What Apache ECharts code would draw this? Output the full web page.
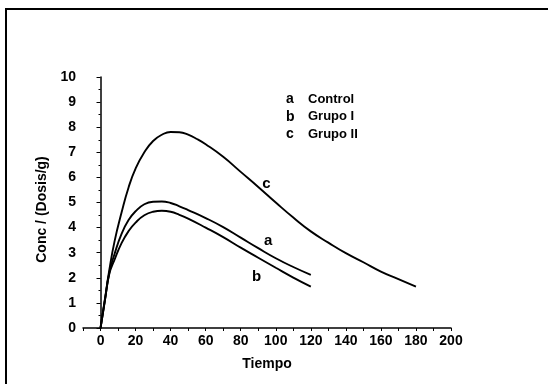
<!DOCTYPE html>
<html>
<head>
<meta charset="utf-8">
<script src="https://cdn.jsdelivr.net/npm/echarts@6/dist/echarts.min.js"></script>
<style>html,body{margin:0;padding:0;background:#fff}#c{width:548px;height:384px}</style>
</head>
<body>
<div id="c"></div>
<script>
const timesA = [0,2.5,5,8,12,16,20,25,30,35,40,45,50,60,70,80,90,100,110,120];
const controlA = [0,1.1,2.2,2.95,3.75,4.3,4.65,4.93,5.03,5.04,4.98,4.85,4.7,4.38,4.02,3.6,3.18,2.78,2.43,2.12];
const timesB = [0,2.5,5,8,12,16,20,25,30,35,40,45,50,60,70,80,90,100,110,120];
const grupoIB = [0,1.1,2.15,2.72,3.38,3.86,4.2,4.49,4.63,4.67,4.63,4.51,4.36,4.0,3.62,3.2,2.8,2.4,2.01,1.65];
const timesC = [0,2.5,5,8,12,16,20,25,30,35,40,45,50,55,60,70,80,90,100,110,120,130,140,150,160,170,180];
const grupoIIC = [0,1.15,2.3,3.45,4.6,5.6,6.35,7.0,7.45,7.7,7.81,7.8,7.7,7.53,7.32,6.82,6.22,5.62,5.0,4.4,3.85,3.4,2.98,2.62,2.25,1.95,1.65];
const xLabelValues = [0,20,40,60,80,100,120,140,160,180,200];
const legendItems = [['a','Control'],['b','Grupo I'],['c','Grupo II']];
const curveLabels = [['a',95.6,3.46],['b',89,2.03],['c',94.7,5.75]];

const font = 'Liberation Sans, Arial, sans-serif';
function pairs(t, v){ return t.map((x,i)=>[x, v[i]]); }
function mk(name, t, v, lab){
  return {
    type:'line', name:name, data:pairs(t,v), smooth:0.5, showSymbol:false, symbol:'none',
    lineStyle:{color:'#000', width:1.9}, animation:false,
    markPoint:{symbol:'circle', symbolSize:0, animation:false,
      label:{show:true, position:'inside', formatter:'{b}', color:'#000', fontFamily:font, fontWeight:'bold', fontSize:15},
      data:[{name:lab[0], coord:[lab[1], lab[2]]}]}
  };
}
const chart = echarts.init(document.getElementById('c'));
chart.setOption({
  backgroundColor:'#fff',
  animation:false,
  grid:{left:83, right:97, top:77, bottom:56},
  xAxis:{type:'value', min:-10, max:200, interval:10,
    name:'Tiempo', nameLocation:'middle', nameGap:29,
    nameTextStyle:{color:'#000', fontFamily:font, fontWeight:'bold', fontSize:14},
    axisLine:{lineStyle:{color:'#000', width:1.5}},
    axisTick:{show:true, length:3, lineStyle:{color:'#000'}},
    axisLabel:{color:'#000', fontFamily:font, fontWeight:'bold', fontSize:14, margin:6,
      formatter:v => xLabelValues.indexOf(v) >= 0 ? String(v) : ''},
    splitLine:{show:false}},
  yAxis:{type:'value', min:0, max:10, interval:1,
    name:'Conc / (Dosis/g)', nameLocation:'middle', nameGap:33,
    nameTextStyle:{color:'#000', fontFamily:font, fontWeight:'bold', fontSize:14, padding:[0,0,0,-14]},
    axisLine:{show:true, lineStyle:{color:'#000', width:1.5}},
    axisTick:{show:true, length:4, lineStyle:{color:'#000'}},
    minorTick:{show:true, splitNumber:2, length:2, lineStyle:{color:'#000'}},
    axisLabel:{color:'#000', fontFamily:font, fontWeight:'bold', fontSize:14, margin:7},
    splitLine:{show:false}},
  graphic:[
    {type:'line', shape:{x1:5, y1:9, x2:548, y2:9}, style:{stroke:'#000', lineWidth:2}},
    {type:'line', shape:{x1:6, y1:9, x2:6, y2:384}, style:{stroke:'#000', lineWidth:2}}
  ].concat(legendItems.flatMap((it,i)=>[
    {type:'text', left:286, top:92+i*17.8, style:{text:it[0], fill:'#000', font:'bold 14px '+font}},
    {type:'text', left:308, top:92.5+i*17.8, style:{text:it[1], fill:'#000', font:'bold 13px '+font}}
  ])),
  series:[
    mk('Control', timesA, controlA, curveLabels[0]),
    mk('Grupo I', timesB, grupoIB, curveLabels[1]),
    mk('Grupo II', timesC, grupoIIC, curveLabels[2])
  ]
});
</script>
</body>
</html>
